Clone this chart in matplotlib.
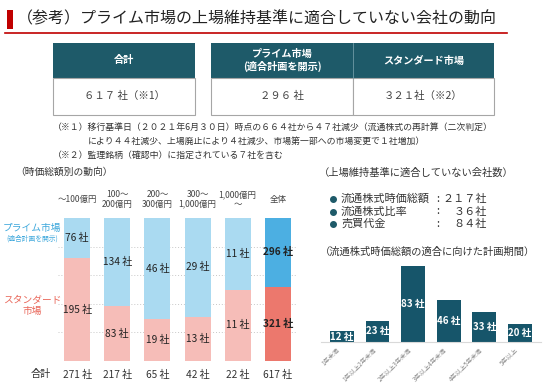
import matplotlib
matplotlib.use("Agg")
import matplotlib.pyplot as plt
from matplotlib.patches import Rectangle
from matplotlib.lines import Line2D

plt.rcParams['font.family'] = ['Noto Sans CJK JP', 'DejaVu Sans']

# ---- data ----
cap_labels = ['～100億円', '100～\n200億円', '200～\n300億円', '300～\n1,000億円', '1,000億円\n～', '全体']
prime_counts = [76, 134, 46, 29, 11, 296]
standard_counts = [195, 83, 19, 13, 11, 321]

period_labels = ['1年未満', '1年以上2年未満', '2年以上3年未満', '3年以上4年未満', '4年以上5年未満', '5年以上']
period_counts = [12, 23, 83, 46, 33, 20]

criteria_names = ['流通株式時価総額', '流通株式比率', '売買代金']
criteria_counts = [217, 36, 84]

table_headers = ['合計', 'プライム市場\n(適合計画を開示)', 'スタンダード市場']
table_values = ['６１７ 社（※1）', '２９６ 社', '３２１社（※2）']

notes = ['（※１）移行基準日（２０２１年6月３０日）時点の６６４社から４７社減少（流通株式の再計算（二次判定）',
         'により４４社減少、上場廃止により４社減少、市場第一部への市場変更で１社増加）',
         '（※２）監理銘柄（確認中）に指定されている７社を含む']

W, H = 550, 387
fig = plt.figure(figsize=(W / 100, H / 100), dpi=100)


def fx(x):
    return x / W


def fy(y):
    return 1 - y / H


def ftext(x, y, s, **kw):
    fig.text(fx(x), fy(y), s, **kw)


def frect(x, y, w, h, **kw):
    fig.add_artist(Rectangle((fx(x), fy(y + h)), w / W, h / H, transform=fig.transFigure, **kw))


def fline(x0, y0, x1, y1, **kw):
    fig.add_artist(Line2D([fx(x0), fx(x1)], [fy(y0), fy(y1)], transform=fig.transFigure, **kw))


def fullwidth(n):
    return str(n).translate(str.maketrans('0123456789', '０１２３４５６７８９'))


# ---- title ----
frect(7, 10, 6, 19, facecolor='#c00000', edgecolor='none')
fline(5, 33, 507, 33, color='#c00000', lw=1.2)
ftext(17, 19, '（参考）プライム市場の上場維持基準に適合していない会社の動向',
      fontsize=11.5, color='#222222', va='center', ha='left')

# ---- table ----
teal = '#1e5a69'
cols = [(53, 195), (211, 353), (353, 494)]
for (x0, x1), head, val in zip(cols, table_headers, table_values):
    frect(x0, 43, x1 - x0, 35, facecolor=teal, edgecolor='none')
    frect(x0, 78, x1 - x0, 37, facecolor='white', edgecolor='#a6a6a6', lw=0.8)
    ftext((x0 + x1) / 2, 60.5, head, fontsize=7.3, color='white', fontweight='bold',
          ha='center', va='center', linespacing=1.15)
    ftext((x0 + x1) / 2, 96, val, fontsize=7.5, color='#404040', ha='center', va='center')
fline(353, 43, 353, 78, color='#6f9aa5', lw=0.6)

ftext(53, 128, notes[0], fontsize=6.4, color='#333333', va='center')
ftext(88, 141, notes[1], fontsize=6.4, color='#333333', va='center')
ftext(53, 155, notes[2], fontsize=6.4, color='#333333', va='center')

# ---- left chart: market cap ----
ftext(15, 172, '（時価総額別の動向）', fontsize=7, color='#333333', va='center')

ax = fig.add_axes([fx(58), fy(361), (297 - 58) / W, (361 - 218) / H])
totals = [p + s for p, s in zip(prime_counts, standard_counts)]
xs = list(range(len(cap_labels)))
std_share = [s / t for s, t in zip(standard_counts, totals)]
prime_share = [p / t for p, t in zip(prime_counts, totals)]
std_colors = ['#f6bdb8'] * 5 + ['#ec786d']
prime_colors = ['#aadaf1'] * 5 + ['#4cafe2']
ax.bar(xs, std_share, width=0.65, color=std_colors, zorder=2)
ax.bar(xs, prime_share, bottom=std_share, width=0.65, color=prime_colors, zorder=2)
for i in xs:
    bold = 'bold' if i == 5 else 'normal'
    ax.text(i, std_share[i] / 2, f'{standard_counts[i]} 社', ha='center', va='center',
            fontsize=7.3, color='#222222', fontweight=bold, zorder=3)
    ax.text(i, std_share[i] + prime_share[i] / 2, f'{prime_counts[i]} 社', ha='center', va='center',
            fontsize=7.3, color='#222222', fontweight=bold, zorder=3)
    ax.text(i, -0.095, f'{totals[i]} 社', ha='center', va='center', fontsize=7.3, color='#333333')
for g in [0.2, 0.4, 0.6, 0.8]:
    ax.axhline(g, color='#c8c8c8', lw=0.7, ls=(0, (1, 2)), zorder=1)
ax.set_xlim(-0.48, 5.48)
ax.set_ylim(0, 1)
ax.xaxis.tick_top()
ax.set_xticks(xs, cap_labels, fontsize=6.1, color='#444444', linespacing=1.1)
for lab in ax.get_xticklabels():
    lab.set_va('center')
ax.tick_params(axis='x', length=0, pad=13.5)
ax.set_yticks([])
for sp in ax.spines.values():
    sp.set_visible(False)

ftext(41, 374, '合計', fontsize=7.3, color='#333333', ha='center', va='center')
ftext(32, 228, 'プライム市場', fontsize=7, color='#3ea8dc', ha='center', va='center')
ftext(32, 239, '(適合計画を開示)', fontsize=4.9, color='#3ea8dc', ha='center', va='center')
ftext(32, 300, 'スタンダード', fontsize=7, color='#e9675a', ha='center', va='center')
ftext(32, 311, '市場', fontsize=7, color='#e9675a', ha='center', va='center')

# ---- right: counts per criterion ----
ftext(319, 173, '（上場維持基準に適合していない会社数）', fontsize=7.4, color='#333333', va='center')
for k, (name, cnt) in enumerate(zip(criteria_names, criteria_counts)):
    yy = 199 + k * 12.5
    fig.add_artist(Line2D([fx(333)], [fy(yy)], marker='o', markersize=4, color=teal,
                          transform=fig.transFigure))
    ftext(341, yy, name, fontsize=8, color='#333333', va='center')
    ftext(438, yy, ':', fontsize=8, color='#333333', va='center', ha='center')
    ftext(487, yy, fullwidth(cnt) + '社', fontsize=8, color='#333333', va='center', ha='right')

ftext(320, 252, '（流通株式時価総額の適合に向けた計画期間）', fontsize=7.4, color='#333333', va='center')

ax2 = fig.add_axes([fx(320.6), fy(342), 6.2 * 35.6 / W, (342 - 259.6) / H])
px = list(range(len(period_labels)))
ax2.bar(px, period_counts, width=0.67, color='#16556a', zorder=2)
for i, v in zip(px, period_counts):
    ax2.text(i, v / 2, f'{v} 社', ha='center', va='center', fontsize=7,
             color='white', fontweight='bold', zorder=3)
ax2.set_xlim(-0.6, 5.6)
ax2.set_ylim(0, 90)
ax2.set_xticks(px, period_labels, rotation=45, ha='right', fontsize=4.5, color='#888888')
for lab in ax2.get_xticklabels():
    lab.set_x(lab.get_position()[0])
ax2.tick_params(axis='x', length=0, pad=3)
ax2.set_yticks([])
for name, sp in ax2.spines.items():
    if name == 'bottom':
        sp.set_color('#d9d9d9')
        sp.set_linewidth(0.8)
    else:
        sp.set_visible(False)

fig.savefig('out.png', dpi=100)
